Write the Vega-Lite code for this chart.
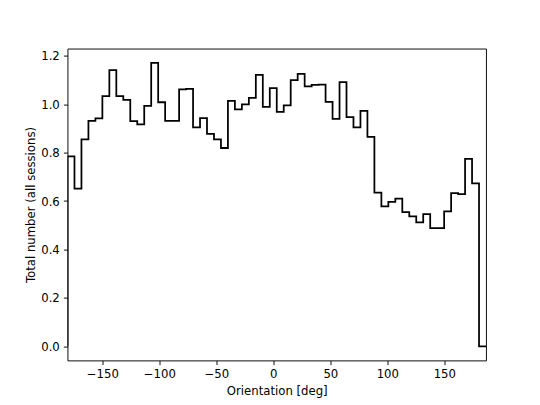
{
  "$schema": "https://vega.github.io/schema/vega-lite/v6.json",
  "width": 418.5,
  "height": 311.85,
  "autosize": {"type": "none"},
  "padding": {"left": 67.5, "top": 48.6, "right": 54, "bottom": 44.55},
  "background": "white",
  "config": {
    "view": {"stroke": "black", "strokeWidth": 0.94},
    "axis": {
      "domain": false,
      "grid": false,
      "tickColor": "black",
      "tickWidth": 0.94,
      "tickSize": 4.1,
      "labelPadding": 4.1,
      "labelFont": "DejaVu Sans",
      "labelFontSize": 11.7,
      "labelColor": "black",
      "titleFont": "DejaVu Sans",
      "titleFontSize": 11.7,
      "titleFontWeight": "normal",
      "titleColor": "black",
      "titlePadding": 4.7
    }
  },
  "data": {
    "values": [
      {"x": -180.6, "v": 0.0},
      {"x": -180.6, "v": 0.784},
      {"x": -174.48, "v": 0.651},
      {"x": -168.36, "v": 0.855},
      {"x": -162.24, "v": 0.931},
      {"x": -156.12, "v": 0.941},
      {"x": -150.0, "v": 1.033},
      {"x": -143.88, "v": 1.141},
      {"x": -137.76, "v": 1.033},
      {"x": -131.64, "v": 1.018},
      {"x": -125.52, "v": 0.93},
      {"x": -119.4, "v": 0.917},
      {"x": -113.28, "v": 0.993},
      {"x": -107.16, "v": 1.171},
      {"x": -101.04, "v": 1.008},
      {"x": -94.92, "v": 0.931},
      {"x": -88.8, "v": 0.931},
      {"x": -82.68, "v": 1.061},
      {"x": -76.56, "v": 1.063},
      {"x": -70.44, "v": 0.904},
      {"x": -64.32, "v": 0.942},
      {"x": -58.2, "v": 0.877},
      {"x": -52.08, "v": 0.855},
      {"x": -45.96, "v": 0.819},
      {"x": -39.84, "v": 1.014},
      {"x": -33.72, "v": 0.979},
      {"x": -27.6, "v": 0.999},
      {"x": -21.48, "v": 1.026},
      {"x": -15.36, "v": 1.121},
      {"x": -9.24, "v": 0.989},
      {"x": -3.12, "v": 1.066},
      {"x": 3.0, "v": 0.968},
      {"x": 9.12, "v": 0.995},
      {"x": 15.24, "v": 1.099},
      {"x": 21.36, "v": 1.125},
      {"x": 27.48, "v": 1.074},
      {"x": 33.6, "v": 1.08},
      {"x": 39.72, "v": 1.081},
      {"x": 45.84, "v": 1.01},
      {"x": 51.96, "v": 0.939},
      {"x": 58.08, "v": 1.091},
      {"x": 64.2, "v": 0.947},
      {"x": 70.32, "v": 0.904},
      {"x": 76.44, "v": 0.972},
      {"x": 82.56, "v": 0.865},
      {"x": 88.68, "v": 0.635},
      {"x": 94.8, "v": 0.578},
      {"x": 100.92, "v": 0.596},
      {"x": 107.04, "v": 0.61},
      {"x": 113.16, "v": 0.554},
      {"x": 119.28, "v": 0.537},
      {"x": 125.4, "v": 0.512},
      {"x": 131.52, "v": 0.546},
      {"x": 137.64, "v": 0.488},
      {"x": 143.76, "v": 0.488},
      {"x": 149.88, "v": 0.557},
      {"x": 156.0, "v": 0.633},
      {"x": 162.12, "v": 0.628},
      {"x": 168.24, "v": 0.774},
      {"x": 174.36, "v": 0.673},
      {"x": 180.48, "v": 0.0},
      {"x": 186.6, "v": 0.0}
    ]
  },
  "mark": {
    "type": "line",
    "interpolate": "step-after",
    "color": "black",
    "strokeWidth": 1.76,
    "strokeJoin": "miter",
    "clip": true
  },
  "encoding": {
    "x": {
      "field": "x",
      "type": "quantitative",
      "sort": null,
      "scale": {"domain": [-180.6, 186.6], "nice": false, "zero": false},
      "axis": {"title": "Orientation [deg]", "values": [-150, -100, -50, 0, 50, 100, 150], "format": "d"}
    },
    "y": {
      "field": "v",
      "type": "quantitative",
      "scale": {"domain": [-0.0586, 1.2296], "nice": false, "zero": false},
      "axis": {"title": "Total number (all sessions)", "values": [0, 0.2, 0.4, 0.6, 0.8, 1.0, 1.2], "format": ".1f"}
    },
    "order": {"field": "x", "type": "quantitative"}
  }
}
